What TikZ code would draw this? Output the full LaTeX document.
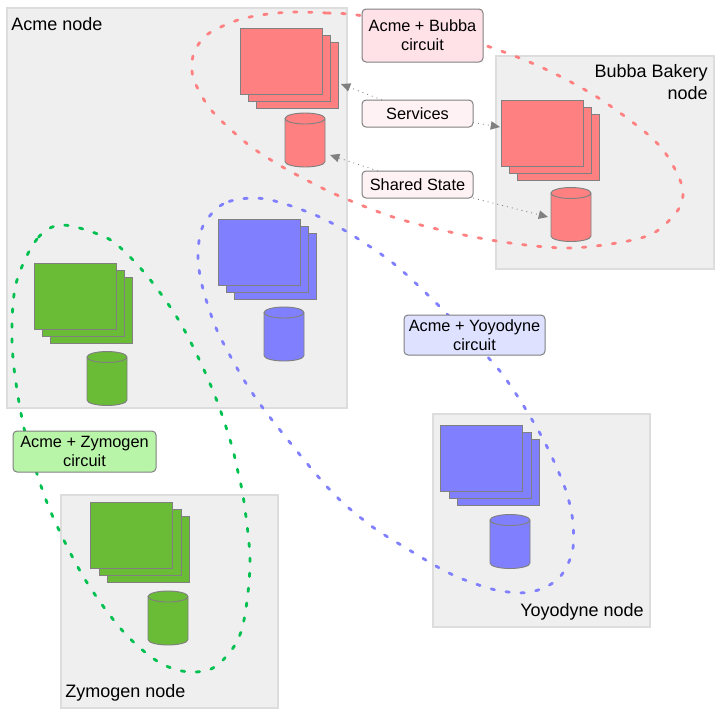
\documentclass[tikz,border=0pt]{standalone}
\usepackage{fontspec}
\setmainfont{Liberation Sans}
\usetikzlibrary{calc,arrows.meta}
\definecolor{boxfill}{HTML}{EFEFEF}
\definecolor{boxline}{HTML}{DDDDDD}
\definecolor{shapeline}{HTML}{808080}
\definecolor{redfill}{HTML}{FF8080}
\definecolor{bluefill}{HTML}{8080FF}
\definecolor{greenfill}{HTML}{6ABB35}
\definecolor{greencurve}{HTML}{00C050}
\definecolor{redlabel}{HTML}{FFE1E8}
\definecolor{redlabelb}{HTML}{FFF2F5}
\definecolor{bluelabel}{HTML}{DEE1FF}
\definecolor{greenlabel}{HTML}{B9F5A8}
\tikzset{
  sized/.style n args={2}{minimum width=#1*0.75pt,minimum height=#2*0.75pt},
  hostbox/.style={draw=boxline,fill=boxfill,line width=1.5pt,anchor=north west,inner sep=0pt,outer sep=0pt},
  sheet/.style={draw=shapeline,line width=0.7pt,anchor=north west,inner sep=0pt,outer sep=0pt,sized={82.5}{66}},
  storebox/.style={inner sep=0pt,outer sep=0pt,sized={40}{54},anchor=center},
  storeline/.style={draw=shapeline,line width=0.7pt},
  circuit/.style={line width=2.1pt,line cap=round,dash pattern=on 2.6pt off 8.65pt},
  tag/.style={draw=shapeline,line width=0.75pt,rounded corners=3pt,anchor=north west,inner sep=0pt,outer sep=0pt,align=center,font=\fontsize{12.25pt}{14.25pt}\selectfont},
  title/.style={inner sep=0pt,font=\fontsize{13.5pt}{16pt}\selectfont},
  link/.style={draw=shapeline,line width=0.6pt,dash pattern=on 0.75pt off 3pt,-{Triangle[length=7pt,width=6.5pt,fill=shapeline,line width=0pt]}},
}
\newcommand\drum[3]{%
  \node[storebox] (#1) at (#2) {};
  \filldraw[storeline,fill=#3] ($(#1.north west)+(0,5.5)$) -- ($(#1.south west)+(0,-5.5)$)
    arc[start angle=180,end angle=0,x radius=20,y radius=5.5]
    -- ($(#1.north east)+(0,5.5)$)
    arc[start angle=0,end angle=-180,x radius=20,y radius=5.5]
    arc[start angle=180,end angle=0,x radius=20,y radius=5.5];
}
\begin{document}
\begin{tikzpicture}[x=0.75pt,y=-0.75pt]
\useasboundingbox (0,0) rectangle (724,719);
% hosts
\node[hostbox,sized={340}{400}] (acme) at (7,8) {};
\node[hostbox,sized={218}{213}] (bubba) at (496,56) {};
\node[hostbox,sized={217}{213}] (yoyo) at (433,414) {};
\node[hostbox,sized={217}{213}] (zym) at (61,495) {};
\node[title,anchor=west] (acmetitle) at (11,24) {Acme node};
\node[title,anchor=east,align=right] (bubbatitle) at (708,82) {Bubba Bakery\\node};
\node[title,anchor=east] (yoyotitle) at (644,611.5) {Yoyodyne node};
\node[title,anchor=west] (zymtitle) at (65,692.5) {Zymogen node};
% red stacks
\node[sheet,fill=redfill] (ra3) at (256,42) {};
\node[sheet,fill=redfill] (ra2) at (248,35) {};
\node[sheet,fill=redfill] (ra1) at (240,28) {};
\drum{rac}{305,140}{redfill}
\node[sheet,fill=redfill] (rb3) at (517,114) {};
\node[sheet,fill=redfill] (rb2) at (509,107) {};
\node[sheet,fill=redfill] (rb1) at (501,100) {};
\drum{rbc}{571,214.5}{redfill}
% blue stacks
\node[sheet,fill=bluefill] (ba3) at (234,233) {};
\node[sheet,fill=bluefill] (ba2) at (226,226) {};
\node[sheet,fill=bluefill] (ba1) at (218,219) {};
\drum{bac}{284,334}{bluefill}
\node[sheet,fill=bluefill] (by3) at (457,439) {};
\node[sheet,fill=bluefill] (by2) at (449,432) {};
\node[sheet,fill=bluefill] (by1) at (440,425) {};
\drum{byc}{510,541.5}{bluefill}
% green stacks
\node[sheet,fill=greenfill] (ga3) at (50,277) {};
\node[sheet,fill=greenfill] (ga2) at (42,270) {};
\node[sheet,fill=greenfill] (ga1) at (34,263) {};
\drum{gac}{107,378.5}{greenfill}
\node[sheet,fill=greenfill] (gz3) at (107,516) {};
\node[sheet,fill=greenfill] (gz2) at (99,509) {};
\node[sheet,fill=greenfill] (gz1) at (90,502) {};
\drum{gzc}{168,618}{greenfill}
% circuits
\draw[circuit,draw=redfill] plot[smooth cycle,tension=0.55] coordinates {
 (357,15) (327,13) (297,12) (268,14) (238,20) (211,32) (200,42) (193,56) (192,71) (196,85)
 (212,111) (245,142) (271,160) (297,175) (337,195) (393,217) (450,232) (510,243) (570,248)
 (628,241) (657,231) (678,210) (683,195) (680,180) (666,154) (645,132) (597,97) (543,68)
 (487,46) (420,26)};
\draw[circuit,draw=bluefill] plot[smooth cycle,tension=0.55] coordinates {
 (253,198) (223,204) (203,226) (198,255) (202,285) (214,323) (227,350) (249,388) (276,425)
 (330,490) (370,525) (406,548) (445,571) (473,583) (501,591) (531,592) (558,579) (572,553)
 (573,523) (567,494) (556,466) (543,439) (528,413) (512,388) (494,364) (445,312) (399,268)
 (363,242) (324,219) (282,203)};
\draw[circuit,draw=greencurve] plot[smooth cycle,tension=0.55] coordinates {
 (62,225) (37,239) (17,280) (12,323) (14,368) (24,428) (41,486) (58,528) (86,581) (121,629)
 (154,659) (182,671) (211,669) (233,648) (244,620) (250,562) (244,502) (238,472) (231,443)
 (217,401) (199,359) (178,319) (152,282) (128,255) (105,237)};
% labels
\node[tag,fill=redlabel,sized={121}{53}] (lbubba) at (362,9) {Acme + Bubba\\circuit};
\node[tag,fill=redlabelb,sized={111}{27}] (lserv) at (362,100) {Services};
\node[tag,fill=redlabelb,sized={111}{27}] (lstate) at (362,171) {Shared State};
\node[tag,fill=bluelabel,sized={141}{40}] (lyoyo) at (404,315) {Acme + Yoyodyne\\circuit};
\node[tag,fill=greenlabel,sized={143}{41}] (lzym) at (13,431) {Acme + Zymogen\\circuit};
% links
\coordinate (sa) at (341,84);
\coordinate (sb) at (500,127);
\coordinate (ta) at (330,155);
\coordinate (tb) at (548,217);
\draw[link] ($(lserv.north west)+(20,0)$) -- (sa);
\draw[link] ($(lserv.east)+(0,9)$) -- (sb);
\draw[link] ($(lstate.north west)+(16,0)$) -- (ta);
\draw[link] (lstate.south east) -- (tb);
\end{tikzpicture}
\end{document}
